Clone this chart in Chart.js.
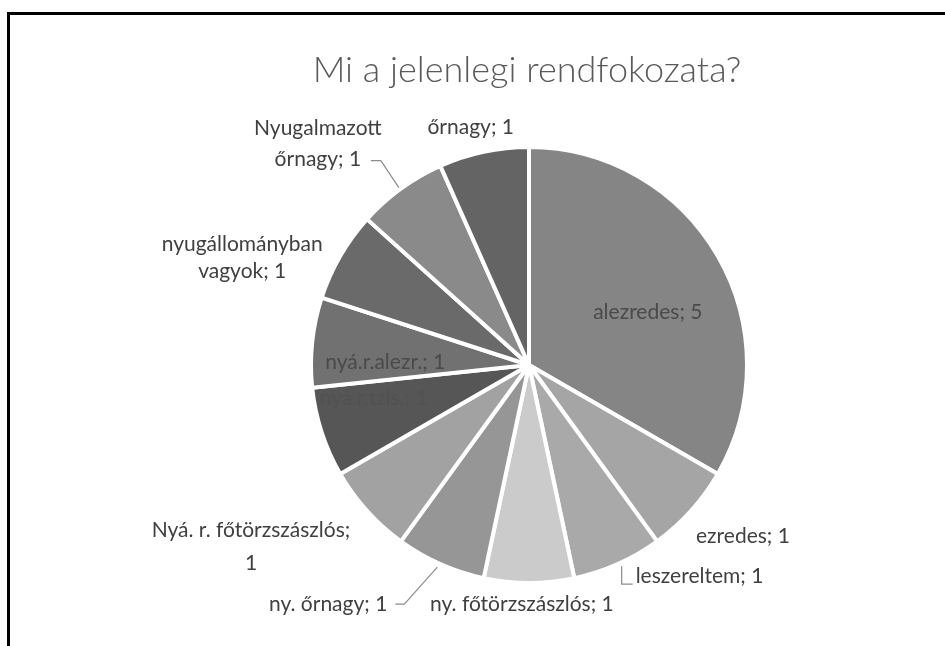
<!DOCTYPE html>
<html><head><meta charset="utf-8">
<script src="https://cdn.jsdelivr.net/npm/chart.js@4.4.1/dist/chart.umd.min.js"></script>
<style>
html,body{margin:0;padding:0;background:#fff;overflow:hidden}
#wrap{position:relative;width:945px;height:646px;background:#fff}
#frame{position:absolute;left:7px;top:12px;width:1000px;height:1000px;border:3px solid #000;box-sizing:border-box}
canvas{position:absolute;left:0;top:0}
</style></head><body>
<div id="wrap"><div id="frame"></div><canvas id="c" width="945" height="646"></canvas></div>
<script>
const chartTitle = 'Mi a jelenlegi rendfokozata?';
const categories = ['alezredes','ezredes','leszereltem','ny. főtörzszászlós','ny. őrnagy','Nyá. r. főtörzszászlós','nyá.r.tzls.','nyá.r.alezr.','nyugállományban vagyok','Nyugalmazott őrnagy','őrnagy'];
const values = [5,1,1,1,1,1,1,1,1,1,1];
const sliceColors = ['#858585','#a5a5a5','#a9a9a9','#cbcbcb','#969696','#a2a2a2','#565656','#717171','#6a6a6a','#8a8a8a','#646464'];

// label layout relative to slice outer-edge midpoint
const labelLayout = [
  {dx:-70, dy:56, align:'center', color:'#4a4a4a'},
  {dx:5, dy:25, align:'left'},
  {dx:18, dy:12, align:'left', leader:[[4,2],[4,20],[15,20]]},
  {dx:-99, dy:21, align:'left'},
  {dx:-53, dy:40, align:'right', leader:[[-3,3],[-36,40],[-45,40]]},
  {dx:-116, dy:19, align:'center', split:3, lh:33},
  {dx:52, dy:-34, align:'center', color:'#525252'},
  {dx:73, dy:20, align:'center', color:'#4a4a4a'},
  {dx:-98, dy:-12, align:'center', split:1, lh:27},
  {dx:-83, dy:-60, align:'center', split:1, lh:31, leader:[[-2,-1],[-20,-28],[-30,-28]]},
  {dx:-13, dy:-25, align:'center'}
];

const labelFont = '21px Lato, "Open Sans", sans-serif';

const labelPlugin = {
  id:'pieLabels',
  afterDraw(chart){
    const ctx = chart.ctx;
    ctx.save();
    ctx.font = '300 36px Lato, "Open Sans", sans-serif';
    ctx.fillStyle = '#595959';
    ctx.textAlign = 'center';
    ctx.textBaseline = 'middle';
    ctx.fillText(chartTitle, 527, 70);
    const meta = chart.getDatasetMeta(0);
    meta.data.forEach((arc, i) => {
      const p = arc.getProps(['x','y','startAngle','endAngle','outerRadius'], true);
      const mid = (p.startAngle + p.endAngle)/2;
      const ex = p.x + p.outerRadius*Math.cos(mid);
      const ey = p.y + p.outerRadius*Math.sin(mid);
      const L = labelLayout[i];
      const text = categories[i] + '; ' + values[i];
      let lines = [text];
      if (L.split){
        const w = text.split(' ');
        lines = [w.slice(0,L.split).join(' '), w.slice(L.split).join(' ')];
      }
      if (L.leader){
        ctx.strokeStyle = '#8c8c8c';
        ctx.lineWidth = 1.2;
        ctx.beginPath();
        L.leader.forEach((pt, k) => {
          const x = ex + pt[0], y = ey + pt[1];
          if (k===0) ctx.moveTo(x,y); else ctx.lineTo(x,y);
        });
        ctx.stroke();
      }
      ctx.font = labelFont;
      ctx.fillStyle = L.color || '#404040';
      ctx.textAlign = L.align;
      ctx.textBaseline = 'middle';
      lines.forEach((ln, k) => {
        ctx.fillText(ln, ex + L.dx, ey + L.dy + k*(L.lh||0));
      });
    });
    ctx.restore();
  }
};

new Chart(document.getElementById('c'), {
  type:'pie',
  data:{
    labels: categories,
    datasets:[{
      data: values,
      backgroundColor: sliceColors,
      borderColor:'#ffffff',
      borderWidth:4
    }]
  },
  options:{
    responsive:false,
    animation:false,
    radius:218,
    layout:{padding:{left:113, top:84, right:0, bottom:0}},
    plugins:{legend:{display:false}, tooltip:{enabled:false}, title:{display:false}}
  },
  plugins:[labelPlugin]
});
</script>
</body></html>
